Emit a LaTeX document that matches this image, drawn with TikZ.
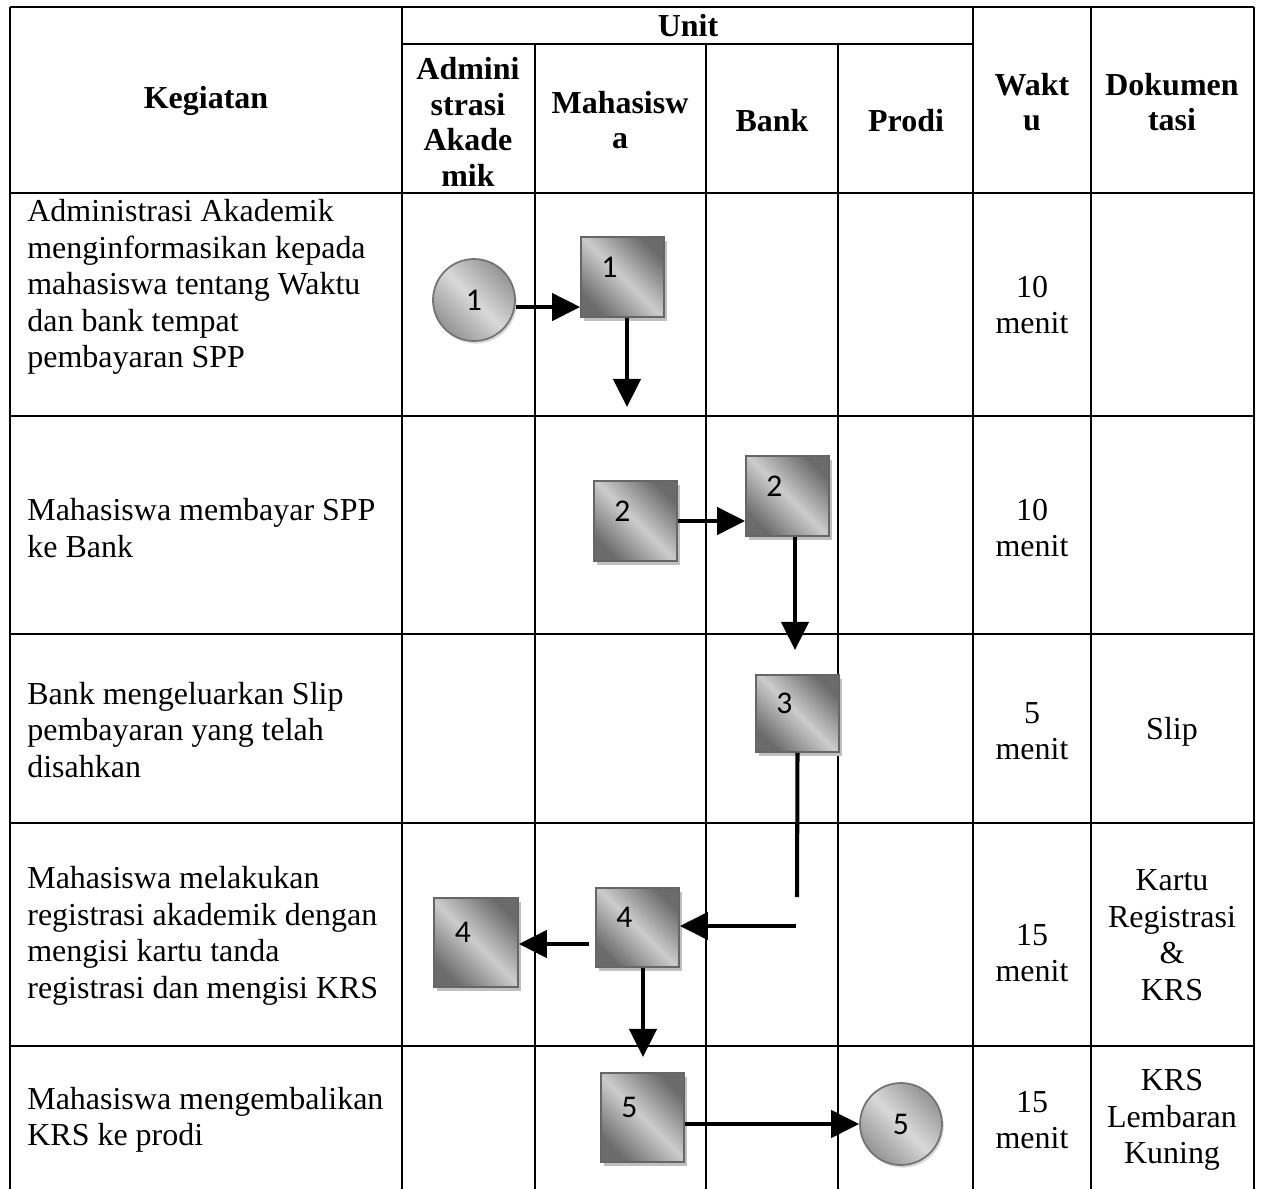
\documentclass[tikz,border=0pt]{standalone}
\usepackage{fontspec}
\setmainfont{Liberation Serif}
\newfontfamily\calfont{Carlito}
\usetikzlibrary{arrows.meta,shadows,calc}

\begin{document}
\begin{tikzpicture}[x=0.02cm,y=-0.02cm,
    tableline/.style={line width=0.9pt},
    cellk/.style={font=\fontsize{18.2}{20.8}\selectfont, inner sep=0pt, align=left, anchor=west},
    cellc/.style={font=\fontsize{18.2}{20.8}\selectfont, inner sep=0pt, align=center},
    cellh/.style={font=\bfseries\fontsize{18.2}{20.3}\selectfont, inner sep=0pt, align=center},
    boxnum/.style={font=\calfont\fontsize{18}{18}\selectfont, inner sep=0pt, xshift=-7.5pt, yshift=5.5pt},
    stepbox/.style 2 args={draw=black!60, line width=1pt, inner sep=0pt,
        minimum width=1.66cm, minimum height=#1,
        top color=black!58, bottom color=black!58, middle color=black!20, shading angle=-45,
        drop shadow={shadow xshift=1.5pt, shadow yshift=-2.5pt, fill=black!25, opacity=1},
        label={[boxnum]center:#2}},
    endcircle/.style={circle, draw=black!55, line width=1pt, inner sep=0pt, minimum size=1.64cm,
        top color=black!42, bottom color=black!42, middle color=black!15, shading angle=-45,
        drop shadow={shadow xshift=1pt, shadow yshift=-1.5pt, fill=black!15, opacity=1},
        font=\calfont\fontsize{18}{18}\selectfont},
    flow/.style={line width=2.3pt, -{Triangle[length=16pt,width=15.5pt]}},
    link/.style={line width=2.3pt}]
\useasboundingbox (0,0) rectangle (1261,1189);

% Draw table rules
\draw[tableline] (10,7) -- (1254,7);
\draw[tableline] (402,44) -- (973,44);
\foreach \y in {193,416,634,823,1046}
    \draw[tableline] (10,\y) -- (1254,\y);
\foreach \x in {10,402,973,1091,1254}
    \draw[tableline] (\x,7) -- (\x,1189);
\foreach \x in {535,706,838}
    \draw[tableline] (\x,44) -- (\x,1189);

% Header
\node[cellh] (hKeg) at (206,101) {Kegiatan};
\node[cellh] (hUnit) at (688,26) {Unit};
\node[cellh] (hAdm) at (468,122) {Admini\\strasi\\Akade\\mik};
\node[cellh] (hMhs) at (620,120) {Mahasisw\\a};
\node[cellh] (hBank) at (772,121) {Bank};
\node[cellh] (hProdi) at (906,121) {Prodi};
\node[cellh] (hWaktu) at (1032,102) {Wakt\\u};
\node[cellh] (hDok) at (1172,102) {Dokumen\\tasi};

% Kegiatan
\node[cellk] (k1) at (27,287) {Administrasi Akademik\\menginformasikan kepada\\mahasiswa tentang Waktu\\dan bank tempat\\pembayaran SPP};
\node[cellk] (k2) at (27,528) {Mahasiswa membayar SPP\\ke Bank};
\node[cellk] (k3) at (27,730) {Bank mengeluarkan Slip\\pembayaran yang telah\\disahkan};
\node[cellk] (k4) at (27,936) {Mahasiswa melakukan\\registrasi akademik dengan\\mengisi kartu tanda\\registrasi dan mengisi KRS};
\node[cellk] (k5) at (27,1120) {Mahasiswa mengembalikan\\KRS ke prodi};

% Waktu and Dokumentasi
\node[cellc] (w1) at (1032,305) {10\\menit};
\node[cellc] (w2) at (1032,528) {10\\menit};
\node[cellc] (w3) at (1032,731) {5\\menit};
\node[cellc] (w4) at (1032,953) {15\\menit};
\node[cellc] (w5) at (1032,1120) {15\\menit};
\node[cellc] (d3) at (1172,732) {Slip};
\node[cellc] (d4) at (1172,935) {Kartu\\Registrasi\\\&\\KRS};
\node[cellc] (d5) at (1172,1120) {KRS\\Lembaran\\Kuning};

% Flow symbols
\node[endcircle] (c1) at (474,300) {1};
\node[stepbox={1.6cm}{1}] (m1) at (622.5,277) {};
\node[stepbox={1.6cm}{2}] (m2) at (635.5,521) {};
\node[stepbox={1.6cm}{2}] (b2) at (787.5,496) {};
\node[stepbox={1.54cm}{3}] (b3) at (797.5,713.5) {};
\node[stepbox={1.58cm}{4}] (m4) at (637.5,927.5) {};
\node[stepbox={1.78cm}{4}, minimum width=1.68cm] (a4) at (476,942.5) {};
\node[stepbox={1.78cm}{5}] (m5) at (642.5,1117.5) {};
\node[endcircle] (p5) at (901,1124) {5};

% Free ends of connectors
\coordinate (c1out) at ([yshift=-4pt]c1.east);
\coordinate (m1end) at (627,407);
\coordinate (b2end) at (795,650);
\coordinate (b3end) at (797,897);
\coordinate (b3turn) at (796,926);
\coordinate (m4out) at (589,944);
\coordinate (m4end) at (643,1057);

% Draw connectors
\draw[flow] (c1out) -- (c1out -| m1.west);
\draw[flow] (m1.south -| m1end) -- (m1end);
\draw[flow] (m2.east) -- (m2.east -| b2.west);
\draw[flow] (b2.south -| b2end) -- (b2end);
\draw[link] (b3.south) -- (b3end);
\draw[flow] (b3turn) -- (b3turn -| m4.east);
\draw[flow] (m4out) -- (m4out -| a4.east);
\draw[flow] (m4.south -| m4end) -- (m4end);
\draw[flow] (m5.east |- p5.west) -- (p5.west);
\end{tikzpicture}
\end{document}
